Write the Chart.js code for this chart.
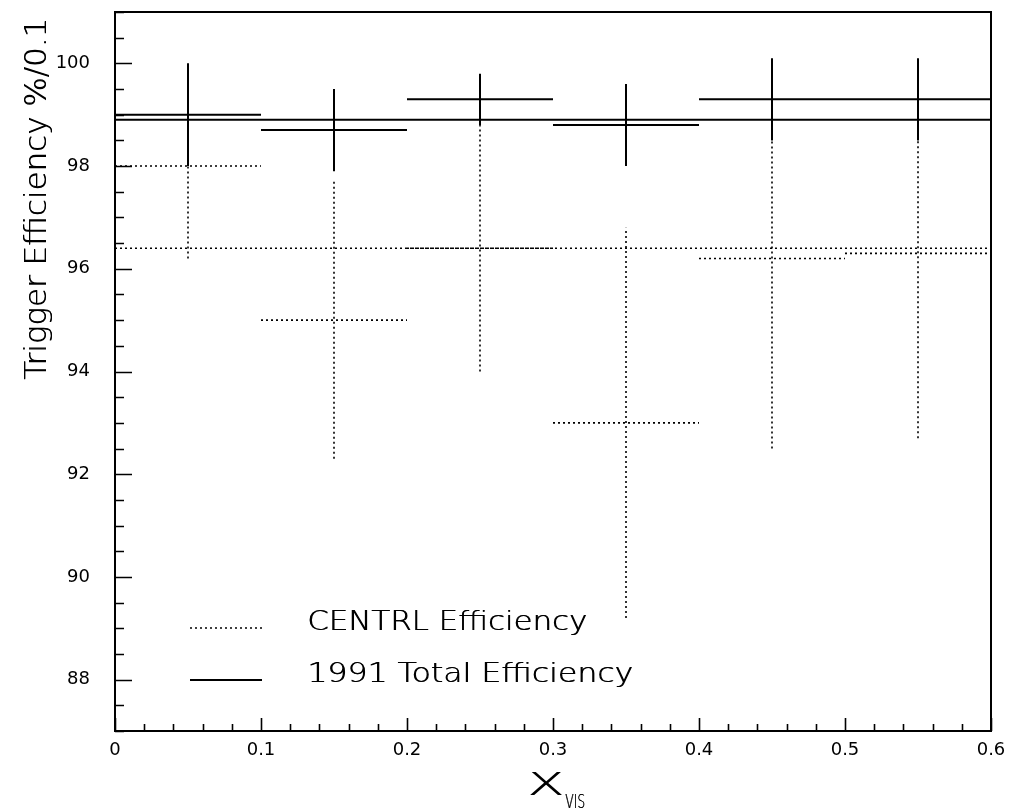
<!DOCTYPE html>
<html>
<head>
<meta charset="utf-8">
<script src="https://cdn.jsdelivr.net/npm/chart.js@4.4.1/dist/chart.umd.min.js"></script>
<style>
  html, body { margin: 0; padding: 0; background: #fff; }
  #wrap { width: 1016px; height: 809px; }
</style>
</head>
<body>
<div id="wrap"><canvas id="c" width="1016" height="809"></canvas></div>
<script>
// ---- data ----
const binLo = [0.0, 0.1, 0.2, 0.3, 0.4, 0.5];
const binHi = [0.1, 0.2, 0.3, 0.4, 0.5, 0.6];
const totalVals = [99.0, 98.7, 99.3, 98.8, 99.3, 99.3];
const totalErr  = [1.0, 0.8, 0.5, 0.8, 0.8, 0.8];
const centrlVals = [98.0, 95.0, 96.4, 93.0, 96.2, 96.3];
const centrlErr  = [1.8, 2.7, 2.4, 3.8, 3.7, 3.6];
const totalFit = 98.9;
const centrlFit = 96.4;
const xRange = [0, 0.6];
const yRange = [87, 101];
const xTickValues = [0, 0.1, 0.2, 0.3, 0.4, 0.5, 0.6];
const yTickValues = [88, 90, 92, 94, 96, 98, 100];
const xMinorStep = 0.02;
const yMinorStep = 0.5;
const labels = ['1991 Total Efficiency', 'CENTRL Efficiency'];
const yTitle = 'Trigger Efficiency %/0.1';
const xTitleMain = 'X';
const xTitleSub = 'VIS';

function binPoints(vals, errs) {
  const pts = [];
  for (let i = 0; i < vals.length; i++) {
    const mid = (binLo[i] + binHi[i]) / 2;
    pts.push({x: binLo[i], y: vals[i]}, {x: binHi[i], y: vals[i]}, {x: binHi[i], y: null});
    pts.push({x: mid, y: vals[i] - errs[i]}, {x: mid, y: vals[i] + errs[i]}, {x: mid, y: null});
  }
  return pts;
}

const FAMILY = "'DejaVu Sans', 'Liberation Sans', sans-serif";
const WEIGHT = 'normal';
const TITLE_WEIGHT = '200';
const DOT = [2, 3];

// draw text stretched horizontally to a target width (the original uses a very wide stroke font)
function wideText(ctx, text, x, y, targetW) {
  const w = ctx.measureText(text).width;
  ctx.save();
  ctx.translate(x, y);
  ctx.scale(targetW / w, 1);
  ctx.fillText(text, 0, 0);
  // a second, slightly offset pass thickens the thin strokes a little
  ctx.fillText(text, 0.6, 0);
  ctx.restore();
}

const frameAndTicks = {
  id: 'frameAndTicks',
  afterDatasetsDraw(chart) {
    const ctx = chart.ctx, a = chart.chartArea;
    const xs = chart.scales.x, ys = chart.scales.y;
    ctx.save();
    ctx.strokeStyle = '#000';
    ctx.lineWidth = 2;
    ctx.strokeRect(a.left, a.top, a.right - a.left, a.bottom - a.top);
    ctx.lineWidth = 1.6;
    ctx.beginPath();
    const nx = Math.round((xRange[1] - xRange[0]) / xMinorStep);
    for (let i = 0; i <= nx; i++) {
      const v = xRange[0] + i * xMinorStep;
      const major = Math.abs(v * 10 - Math.round(v * 10)) < 1e-6;
      const px = Math.round(xs.getPixelForValue(v)) + 0.5;
      ctx.moveTo(px, a.bottom);
      ctx.lineTo(px, a.bottom - (major ? 13 : 7));
    }
    const ny = Math.round((yRange[1] - yRange[0]) / yMinorStep);
    for (let i = 0; i <= ny; i++) {
      const v = yRange[0] + i * yMinorStep;
      const major = yTickValues.includes(v);
      const py = Math.round(ys.getPixelForValue(v)) + 0.5;
      ctx.moveTo(a.left, py);
      ctx.lineTo(a.left + (major ? 17 : 9), py);
    }
    ctx.stroke();

    ctx.fillStyle = '#000';
    ctx.textAlign = 'left';
    ctx.textBaseline = 'alphabetic';

    // y-axis title, reading upward, anchored at the top
    ctx.font = TITLE_WEIGHT + ' 30px ' + FAMILY;
    ctx.save();
    ctx.translate(46, 380);
    ctx.rotate(-Math.PI / 2);
    wideText(ctx, yTitle, 0, 0, 362);
    ctx.restore();

    // x-axis title X_vis
    ctx.font = TITLE_WEIGHT + ' 32px ' + FAMILY;
    wideText(ctx, xTitleMain, 527, 795, 37);
    ctx.font = TITLE_WEIGHT + ' 19px ' + FAMILY;
    wideText(ctx, xTitleSub, 565, 808, 20);

    // legend
    const items = [
      {ds: chart.data.datasets[1], y: 628, base: 630, w: 280},
      {ds: chart.data.datasets[0], y: 680, base: 682, w: 326}
    ];
    items.forEach(it => {
      ctx.beginPath();
      ctx.lineWidth = it.ds.borderWidth;
      ctx.setLineDash(it.ds.borderDash || []);
      ctx.moveTo(190, it.y);
      ctx.lineTo(262, it.y);
      ctx.stroke();
      ctx.setLineDash([]);
      ctx.font = TITLE_WEIGHT + ' 27px ' + FAMILY;
      wideText(ctx, it.ds.label, 307, it.base, it.w);
    });
    ctx.restore();
  }
};

new Chart(document.getElementById('c'), {
  type: 'line',
  data: {
    datasets: [
      { label: labels[0], data: binPoints(totalVals, totalErr), borderColor: '#000', borderWidth: 2, pointRadius: 0, spanGaps: false, fill: false },
      { label: labels[1], data: binPoints(centrlVals, centrlErr), borderColor: '#000', borderWidth: 1.6, borderDash: DOT, pointRadius: 0, spanGaps: false, fill: false },
      { label: 'fit total', data: [{x: xRange[0], y: totalFit}, {x: xRange[1], y: totalFit}], borderColor: '#000', borderWidth: 2, pointRadius: 0, fill: false },
      { label: 'fit centrl', data: [{x: xRange[0], y: centrlFit}, {x: xRange[1], y: centrlFit}], borderColor: '#000', borderWidth: 1.6, borderDash: DOT, pointRadius: 0, fill: false }
    ]
  },
  options: {
    responsive: false,
    animation: false,
    events: [],
    layout: { padding: { top: 12, right: 25, left: 0, bottom: 0 } },
    plugins: { legend: { display: false }, tooltip: { enabled: false } },
    scales: {
      x: {
        type: 'linear', min: xRange[0], max: xRange[1],
        grid: { display: false, drawTicks: false },
        border: { display: true, color: '#000', width: 2 },
        afterBuildTicks: s => { s.ticks = xTickValues.map(v => ({value: v})); },
        afterFit: s => { s.height = 78; s.paddingLeft = 0; s.paddingRight = 0; },
        ticks: { padding: 9, color: '#000', font: { family: FAMILY, size: 18, weight: WEIGHT }, maxRotation: 0,
                 callback: v => (v === 0 ? '0' : Number(v).toFixed(1)) }
      },
      y: {
        type: 'linear', min: yRange[0], max: yRange[1],
        grid: { display: false, drawTicks: false },
        border: { display: true, color: '#000', width: 2 },
        afterBuildTicks: s => { s.ticks = yTickValues.map(v => ({value: v})); },
        afterFit: s => { s.width = 115; s.paddingTop = 0; s.paddingBottom = 0; },
        ticks: { padding: 25, color: '#000', font: { family: FAMILY, size: 18, weight: WEIGHT },
                 callback: v => String(v) }
      }
    }
  },
  plugins: [frameAndTicks]
});
</script>
</body>
</html>
